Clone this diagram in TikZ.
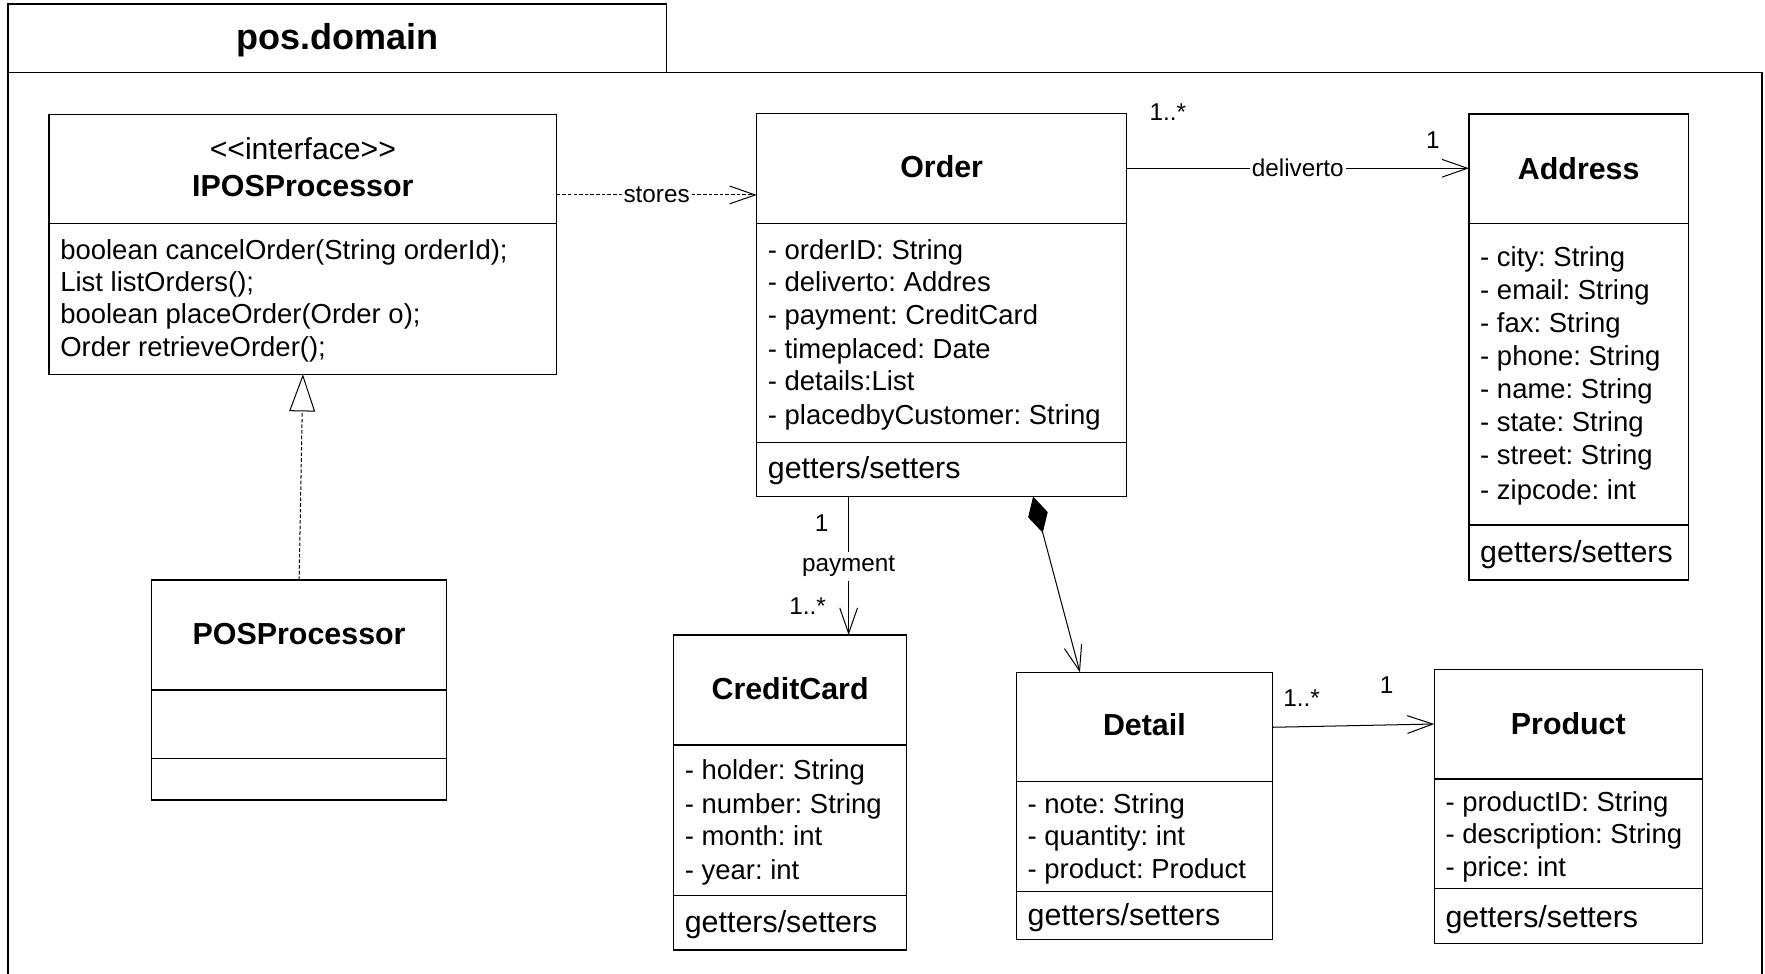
\documentclass[tikz,border=0pt]{standalone}
\usepackage{fontspec}
\setmainfont{Liberation Sans}
\usetikzlibrary{arrows.meta}
\frenchspacing
\begin{document}
\frenchspacing
\begin{tikzpicture}[x=0.5pt,y=-0.5pt,
  classbox/.style={draw, line width=0.65pt, inner sep=0pt, outer sep=0pt, anchor=north west, fill=white},
  divline/.style={line width=0.65pt},
  attr/.style={inner sep=0pt, anchor=base west, xshift=4.8pt, font=\fontsize{12.2}{14}\selectfont},
  ops/.style={inner sep=0pt, anchor=base west, xshift=4.8pt, font=\fontsize{13.5}{16}\selectfont},
  cname/.style={inner sep=0pt, anchor=base, font=\bfseries\fontsize{13.5}{16}\selectfont},
  stereo/.style={inner sep=0pt, anchor=base, font=\fontsize{13.4}{16}\selectfont},
  lbl/.style={inner sep=0pt, font=\fontsize{10.8}{12}\selectfont},
  onlbl/.style={lbl, fill=white, inner xsep=0.8pt, inner ysep=2pt},
  conn/.style={line width=0.45pt},
  dotline/.style={conn, dash pattern=on 1.6pt off 0.9pt},
  opentip/.style={-{Straight Barb[length=11.3pt,width=7.9pt]}},
  pkgline/.style={line width=0.6pt}
]
\useasboundingbox (0,0) rectangle (1568,865);

% package frame
\draw[pkgline] (7.1,865) -- (7.1,64.3) -- (1565.3,64.3) -- (1565.3,865);
\node[draw, pkgline, inner sep=0pt, outer sep=0pt, anchor=north west, minimum width=292.45pt, minimum height=30.35pt] (pkgtab) at (7.1,3.6) {};
\node[inner sep=0pt, anchor=base, font=\bfseries\fontsize{16}{18}\selectfont] (pkgtitle) at (pkgtab.center |- 0,44.4) {pos.domain};

% IPOSProcessor
\node[classbox, minimum width=225.45pt, minimum height=115.45pt] (ipos) at (43.6,101.6) {};
\draw[divline] (ipos.west |- 0,198.4) -- (ipos.east |- 0,198.4);
\node[stereo] (iposS) at (ipos.north |- 0,141.5) {<{}<interface>{}>};
\node[cname] (iposN) at (ipos.north |- 0,174.5) {IPOSProcessor};
\foreach \y/\t [count=\i] in {230.5/{boolean cancelOrder(String orderId);},259.1/{List listOrders();},287.7/{boolean placeOrder(Order o);},316.3/{Order retrieveOrder();}}
  \node[attr] (iposM\i) at (ipos.west |- 0,\y) {\t};

% POSProcessor
\node[classbox, minimum width=131.05pt, minimum height=97.75pt] (posproc) at (134.7,515.2) {};
\draw[divline] (posproc.west |- 0,613) -- (posproc.east |- 0,613);
\draw[divline] (posproc.west |- 0,673.7) -- (posproc.east |- 0,673.7);
\node[cname] (posprocN) at (posproc.north |- 0,572.5) {POSProcessor};

% Order
\node[classbox, minimum width=164.35pt, minimum height=170.25pt] (order) at (672.2,100.7) {};
\draw[divline] (order.west |- 0,198.4) -- (order.east |- 0,198.4);
\draw[divline] (order.west |- 0,392.9) -- (order.east |- 0,392.9);
\node[cname] (orderN) at (order.north |- 0,157.6) {Order};
\foreach \y/\t [count=\i] in {230.7/{- orderID: String},259.4/{- deliverto: Addres},288.6/{- payment: CreditCard},318.1/{- timeplaced: Date},346.8/{- details:List},377.2/{- placedbyCustomer: String}}
  \node[attr] (orderA\i) at (order.west |- 0,\y) {\t};
\node[ops] (orderO) at (order.west |- 0,425) {getters/setters};

% Address
\node[classbox, minimum width=97.5pt, minimum height=206.95pt] (address) at (1305,101.3) {};
\draw[divline] (address.west |- 0,198.4) -- (address.east |- 0,198.4);
\draw[divline] (address.west |- 0,466.4) -- (address.east |- 0,466.4);
\node[cname] (addressN) at (address.north |- 0,159.2) {Address};
\foreach \y/\t [count=\i] in {236.7/{- city: String},266.3/{- email: String},295.3/{- fax: String},324.9/{- phone: String},353.7/{- name: String},383.3/{- state: String},412.9/{- street: String},444/{- zipcode: int}}
  \node[attr] (addressA\i) at (address.west |- 0,\y) {\t};
\node[ops] (addressO) at (address.west |- 0,499.7) {getters/setters};

% CreditCard
\node[classbox, minimum width=103.5pt, minimum height=139.95pt] (credit) at (598.4,564) {};
\draw[divline] (credit.west |- 0,661.8) -- (credit.east |- 0,661.8);
\draw[divline] (credit.west |- 0,795.7) -- (credit.east |- 0,795.7);
\node[cname] (creditN) at (credit.north |- 0,621.2) {CreditCard};
\foreach \y/\t [count=\i] in {692.7/{- holder: String},722.3/{- number: String},751.4/{- month: int},781/{- year: int}}
  \node[attr] (creditA\i) at (credit.west |- 0,\y) {\t};
\node[ops] (creditO) at (credit.west |- 0,828.4) {getters/setters};

% Detail
\node[classbox, minimum width=113.65pt, minimum height=118.55pt] (detail) at (903,597.3) {};
\draw[divline] (detail.west |- 0,694.4) -- (detail.east |- 0,694.4);
\draw[divline] (detail.west |- 0,792) -- (detail.east |- 0,792);
\node[cname] (detailN) at (detail.north |- 0,653.7) {Detail};
\foreach \y/\t [count=\i] in {722.3/{- note: String},751.4/{- quantity: int},780.1/{- product: Product}}
  \node[attr] (detailA\i) at (detail.west |- 0,\y) {\t};
\node[ops] (detailO) at (detail.west |- 0,822.5) {getters/setters};

% Product
\node[classbox, minimum width=119.05pt, minimum height=121.7pt] (product) at (1274.2,594.6) {};
\draw[divline] (product.west |- 0,692) -- (product.east |- 0,692);
\draw[divline] (product.west |- 0,789.5) -- (product.east |- 0,789.5);
\node[cname] (productN) at (product.north |- 0,652.3) {Product};
\foreach \y/\t [count=\i] in {720.9/{- productID: String},749/{- description: String},778.6/{- price: int}}
  \node[attr] (productA\i) at (product.west |- 0,\y) {\t};
\node[ops] (productO) at (product.west |- 0,824) {getters/setters};

% connectors
\draw[dotline, opentip] (ipos.east |- 0,173.2) -- (order.west |- 0,173.2)
  node[onlbl, pos=0.5] (storesL) {stores};
\draw[dotline, -{Triangle[open, length=16.5pt, width=11.5pt]}] (posproc.north) -- (ipos.south);
\draw[conn, opentip] (order.east |- 0,149.5) -- (address.west |- 0,149.5)
  node[onlbl, pos=0.5] (delivL) {deliverto};
\draw[conn, opentip] (order.south -| 753.9,0) -- (credit.north -| 753.9,0)
  node[onlbl, pos=0.505] (payL) {payment};
\draw[conn, {Diamond[length=16.6pt,width=9pt]}-{Straight Barb[length=11.3pt,width=7.9pt]}] (order.south -| 917.8,0) -- (detail.north -| 959.4,0);
\draw[conn, opentip] (detail.east |- 0,646.1) -- (product.west |- 0,643.2);

% multiplicities
\node[lbl] (mOrdAddr) at (1037.5,99.2) {1..*};
\node[lbl] (mAddr) at (1273,124.4) {1};
\node[lbl] (mOrdPay) at (730,464.9) {1};
\node[lbl] (mPay) at (717.4,538.3) {1..*};
\node[lbl] (mDet) at (1156.3,620.4) {1..*};
\node[lbl] (mProd) at (1231.8,608.5) {1};
\end{tikzpicture}
\end{document}
